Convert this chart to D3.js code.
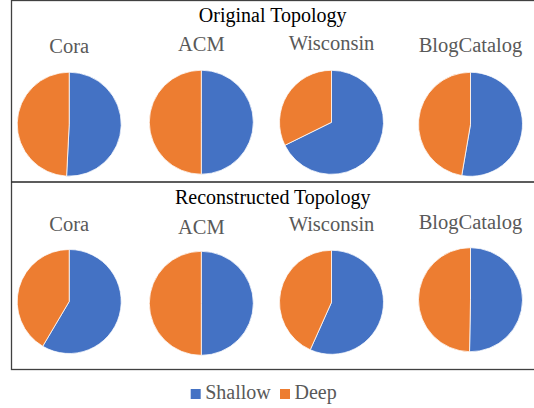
<!DOCTYPE html>
<html>
<head>
<meta charset="utf-8">
<script src="https://cdn.jsdelivr.net/npm/d3@7/dist/d3.min.js"></script>
<style>
  html, body { margin: 0; padding: 0; background: #fff; }
  svg { display: block; }
</style>
</head>
<body>
<svg id="chart" width="534" height="408"></svg>
<script>
// Share of shallow vs deep (percent) per dataset
const datasets = ["Cora", "ACM", "Wisconsin", "BlogCatalog"];
const seriesNames = ["Shallow", "Deep"];
const originalShallow = [50.8, 50.0, 67.7, 52.7];
const originalDeep = [49.2, 50.0, 32.3, 47.3];
const reconstructedShallow = [58.5, 50.0, 56.7, 50.3];
const reconstructedDeep = [41.5, 50.0, 43.3, 49.7];
const panelTitles = ["Original Topology", "Reconstructed Topology"];

const colors = d3.scaleOrdinal().domain(seriesNames).range(["#4472C4", "#ED7D31"]);

// Layout
const svg = d3.select("#chart");
const font = "'Liberation Serif', 'Times New Roman', serif";
const radius = 52;
const xCenter = d3.scaleOrdinal().domain(datasets).range([69.2, 201.3, 331.5, 470.5]);

const panels = [
  { title: panelTitles[0], shallow: originalShallow, deep: originalDeep,
    top: 0, titleY: 22, labelY: [53, 51, 50, 52], pieY: [124.2, 122.2, 122.3, 124.3] },
  { title: panelTitles[1], shallow: reconstructedShallow, deep: reconstructedDeep,
    top: 182, titleY: 203.5, labelY: [231, 233.5, 231, 229], pieY: [301.5, 303.3, 302.3, 299.7] }
];

// Frame around both panels
svg.append("rect")
  .attr("x", 11.5).attr("y", 0.5)
  .attr("width", 540).attr("height", 369)
  .attr("fill", "none").attr("stroke", "#404040").attr("stroke-width", 1.3);
svg.append("line")
  .attr("x1", 11.5).attr("x2", 540).attr("y1", 182).attr("y2", 182)
  .attr("stroke", "#262626").attr("stroke-width", 1.5);

const pie = d3.pie().sort(null).value(d => d.value).startAngle(0).endAngle(2 * Math.PI);
const arc = d3.arc().innerRadius(0).outerRadius(radius);

panels.forEach(p => {
  svg.append("text")
    .attr("x", 272.7).attr("y", p.titleY)
    .attr("text-anchor", "middle")
    .attr("font-family", font).attr("font-size", 20)
    .attr("fill", "#000")
    .text(p.title);

  datasets.forEach((name, i) => {
    const cx = xCenter(name);
    svg.append("text")
      .attr("x", cx).attr("y", p.labelY[i])
      .attr("text-anchor", "middle")
      .attr("font-family", font).attr("font-size", 20.5)
      .attr("fill", "#595959")
      .text(name);

    const values = [
      { key: seriesNames[0], value: p.shallow[i] },
      { key: seriesNames[1], value: p.deep[i] }
    ];
    svg.append("g")
      .attr("transform", `translate(${cx},${p.pieY[i]})`)
      .selectAll("path")
      .data(pie(values))
      .join("path")
      .attr("d", arc)
      .attr("fill", d => colors(d.data.key))
      .attr("stroke", "#fff")
      .attr("stroke-width", 0.75);
  });
});

// Legend
const legendItems = [
  { key: seriesNames[0], x: 190.7 },
  { key: seriesNames[1], x: 280 }
];
const legend = svg.append("g");
legendItems.forEach(item => {
  legend.append("rect")
    .attr("x", item.x).attr("y", 389)
    .attr("width", 10).attr("height", 10)
    .attr("fill", colors(item.key));
  legend.append("text")
    .attr("x", item.x + 14.5).attr("y", 398.5)
    .attr("font-family", font).attr("font-size", 20)
    .attr("fill", "#595959")
    .text(item.key);
});
</script>
</body>
</html>
